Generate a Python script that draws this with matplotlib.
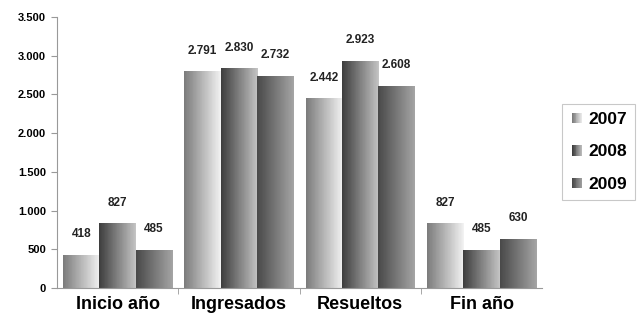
import numpy as np
import matplotlib
matplotlib.use('Agg')
from matplotlib import pyplot
from matplotlib.colors import LinearSegmentedColormap
from matplotlib.legend_handler import HandlerBase
from matplotlib.patches import Rectangle
from matplotlib.ticker import FuncFormatter

categories = ['Inicio año', 'Ingresados', 'Resueltos', 'Fin año']
years = ['2007', '2008', '2009']
values_2007 = [418, 2791, 2442, 827]
values_2008 = [827, 2830, 2923, 485]
values_2009 = [485, 2732, 2608, 630]

# left -> right gradient colours per series
gradients = {
    '2007': ('#7c7c7c', '#f2f2f2'),
    '2008': ('#3e3e3e', '#c4c4c4'),
    '2009': ('#4a4a4a', '#a4a4a4'),
}


def make_cmap(year):
    return LinearSegmentedColormap.from_list(year, gradients[year])


class GradientHandler(HandlerBase):
    def __init__(self, year, steps=12):
        super().__init__()
        self.year = year
        self.steps = steps

    def create_artists(self, legend, orig_handle, xdescent, ydescent,
                       width, height, fontsize, trans):
        cmap = make_cmap(self.year)
        size = height * 0.85
        x0 = xdescent + width - size
        y0 = -ydescent + (height - size) / 2
        step = size / self.steps
        artists = []
        for i in range(self.steps):
            r = Rectangle((x0 + i * step, y0), step * 1.05, size,
                          facecolor=cmap(i / (self.steps - 1)),
                          edgecolor='none', transform=trans)
            artists.append(r)
        return artists


def main():
    pyplot.rcParams['font.family'] = ['Liberation Sans', 'DejaVu Sans']
    fig = pyplot.figure(figsize=(6.44, 3.22), dpi=100)
    ax = fig.add_axes([0.0885, 0.1056, 0.7535, 0.8414])

    series = [values_2007, values_2008, values_2009]
    width = 0.30
    grad = np.linspace(0, 1, 64).reshape(1, -1)
    x = np.arange(len(categories))

    for j, (year, vals) in enumerate(zip(years, series)):
        cmap = make_cmap(year)
        for i, v in enumerate(vals):
            left = x[i] + (j - 1) * width - width / 2
            ax.imshow(grad, extent=[left, left + width, 0, v], aspect='auto',
                      cmap=cmap, interpolation='nearest', zorder=2)
            ax.annotate(format(v, ',').replace(',', '.'),
                        (left + width / 2, v), xytext=(0, 11),
                        textcoords='offset points', ha='center', va='bottom',
                        fontsize=8.5, fontweight='bold', color='#222222')

    ax.set_xlim(-0.5, len(categories) - 0.5)
    ax.set_ylim(0, 3500)
    ax.set_yticks(np.arange(0, 3501, 500))
    ax.yaxis.set_major_formatter(FuncFormatter(
        lambda v, p: format(int(v), ',').replace(',', '.')))
    ax.set_xticks(x)
    ax.set_xticklabels(categories)
    ax.set_xticks(np.arange(0.5, len(categories) - 0.5, 1), minor=True)
    ax.tick_params(axis='x', which='major', length=0, pad=6, labelsize=13)
    ax.tick_params(axis='x', which='minor', length=4, color='#999999')
    ax.tick_params(axis='y', length=4, color='#999999', labelsize=8, pad=4)
    for lbl in ax.get_xticklabels() + ax.get_yticklabels():
        lbl.set_fontweight('bold')

    for side in ['top', 'right']:
        ax.spines[side].set_visible(False)
    for side in ['left', 'bottom']:
        ax.spines[side].set_color('#999999')
        ax.spines[side].set_linewidth(0.8)

    handles = [Rectangle((0, 0), 1, 1) for _ in years]
    leg = fig.legend(handles, years,
                     handler_map={h: GradientHandler(y) for h, y in zip(handles, years)},
                     loc='upper left', bbox_to_anchor=(0.872, 0.677),
                     prop={'size': 12.5, 'weight': 'bold'},
                     frameon=True, fancybox=False, handlelength=0.75,
                     handletextpad=0.35, labelspacing=1.0, borderpad=0.45,
                     borderaxespad=0)
    leg.get_frame().set_edgecolor('#bbbbbb')
    leg.get_frame().set_linewidth(0.8)

    fig.savefig('out.png', dpi=100)


if __name__ == '__main__':
    main()
